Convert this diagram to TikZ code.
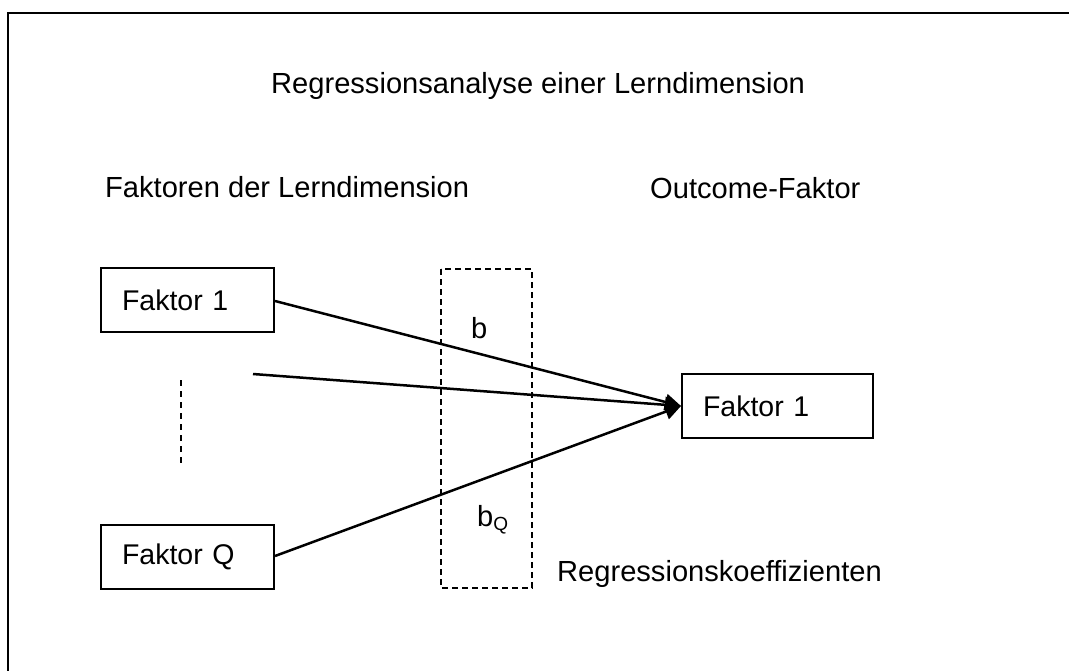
\documentclass[tikz,border=0pt]{standalone}
\usepackage{fontspec}
\setmainfont{Liberation Sans}
\usetikzlibrary{arrows.meta}

\tikzset{
  lbl/.style={inner sep=0pt, anchor=base west, font=\fontsize{29.1}{35}\selectfont},
  factorbox/.style={draw, line width=2pt, minimum height=64pt, inner xsep=21pt, inner ysep=0pt,
    align=left, font=\fontsize{28.5}{34}\selectfont},
  link/.style={line width=2.5pt, -{Triangle[length=16pt, width=16pt]}, shorten >=0pt},
  coefbox/.style={draw, line width=2pt, dash pattern=on 6pt off 4pt},
}

\begin{document}
\begin{tikzpicture}[x=1pt, y=-1pt]
  \useasboundingbox (0,0) rectangle (1069,670);

  % outer frame (runs off the right and bottom of the page)
  \draw[line width=2pt] (8,690) -- (8,13) -- (1090,13);

  % headings
  \node[lbl] (title) at (271,93) {Regressionsanalyse einer Lerndimension};
  \node[lbl] (lefthead) at (105,197) {Faktoren der Lerndimension};
  \node[lbl] (righthead) at (650,198) {Outcome-Faktor};

  % predictor factors
  \node[factorbox, text width=131pt] (f1) at (187.5,300) {Faktor 1};
  \node[factorbox, text width=131pt] (fq) at (187.5,557) {Faktor Q};
  \draw[line width=1.5pt, dash pattern=on 6pt off 5pt] (181,380) -- (181,465);
  \coordinate (fmid) at (253,374);

  % outcome factor
  \node[factorbox, text width=149pt] (out) at (777.5,406) {Faktor 1};

  % box of regression coefficients
  \draw[coefbox] (441,269) rectangle (532,588);
  \node[lbl] (b1) at (471,338) {b};
  \node[lbl] (bq) at (477,526) {b\raisebox{-4.5pt}{\fontsize{19}{22}\selectfont Q}};
  \node[lbl] (coef) at (557,581) {Regressionskoeffizienten};

  % regression paths
  \draw[link] (f1.east |- 0,301) -- (out.west);
  \draw[link] (fmid) -- (out.west);
  \draw[link] (fq.east |- 0,556) -- (out.west);
\end{tikzpicture}
\end{document}
